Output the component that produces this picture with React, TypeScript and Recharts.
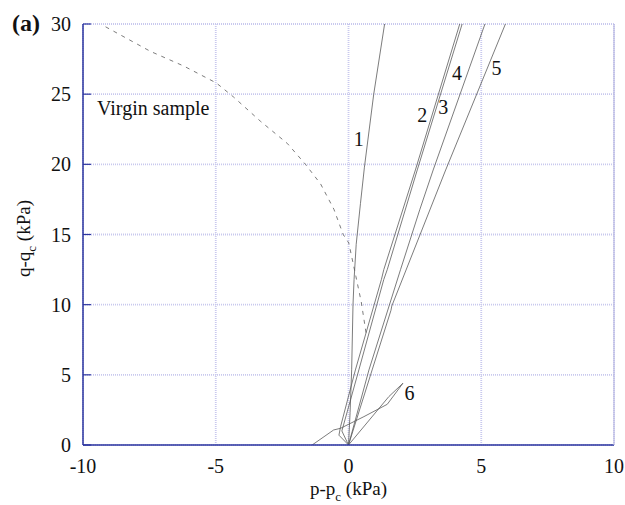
import React from 'react';
import {
  LineChart,
  Line,
  XAxis,
  YAxis,
  CartesianGrid,
  ReferenceDot,
  Customized,
} from 'recharts';

// Stress paths in the p-q plane, relative to the reference state (p_c, q_c), kPa
const path1 = [
  { x: 0, y: 0 }, { x: 0.06, y: 2.3 }, { x: 0.12, y: 5.4 }, { x: 0.17, y: 10 },
  { x: 0.21, y: 11.8 }, { x: 0.29, y: 14.3 }, { x: 0.45, y: 17.2 },
  { x: 0.6, y: 19.8 }, { x: 0.95, y: 25 }, { x: 1.36, y: 30 },
];
const path2 = [
  { x: 0, y: 0 }, { x: -0.36, y: 0.7 }, { x: -0.3, y: 1.3 }, { x: 0.26, y: 5.35 },
  { x: 1.24, y: 11.8 }, { x: 1.33, y: 12.5 }, { x: 2.52, y: 19.6 }, { x: 4.19, y: 30 },
];
const path3 = [
  { x: 0, y: 0 }, { x: -0.25, y: 1.0 }, { x: 0.39, y: 5.35 }, { x: 1.33, y: 11.8 },
  { x: 1.46, y: 12.5 }, { x: 2.59, y: 19.6 }, { x: 4.28, y: 30 },
];
const path4 = [
  { x: 0, y: 0 }, { x: 0.77, y: 5.35 }, { x: 1.96, y: 12.5 }, { x: 2.69, y: 16.8 },
  { x: 3.19, y: 19.6 }, { x: 5.14, y: 30 },
];
const path5 = [
  { x: 0, y: 0 }, { x: 0.89, y: 5.35 }, { x: 1.6, y: 9.6 }, { x: 1.63, y: 9.9 },
  { x: 3.66, y: 19.6 }, { x: 5.91, y: 30 },
];
const path6a = [
  { x: -1.37, y: 0 }, { x: -0.56, y: 1.07 }, { x: -0.3, y: 1.19 }, { x: 0.58, y: 2.02 },
  { x: 1.46, y: 2.9 }, { x: 2.05, y: 4.4 },
];
const path6b = [
  { x: 0, y: 0 }, { x: 1.52, y: 3.45 }, { x: 2.05, y: 4.4 },
];
const virginPath = [
  { x: -9.15, y: 29.8 }, { x: -7.46, y: 28.05 }, { x: -6.2, y: 27.0 }, { x: -4.98, y: 25.8 },
  { x: -4.33, y: 24.8 }, { x: -3.31, y: 23.06 }, { x: -2.31, y: 21.5 }, { x: -1.62, y: 20.0 },
  { x: -1.05, y: 18.6 }, { x: -0.55, y: 16.8 }, { x: -0.2, y: 15.0 }, { x: 0.01, y: 14.4 },
  { x: 0.28, y: 12.0 }, { x: 0.48, y: 10.2 }, { x: 0.66, y: 8.0 },
];

const xTicks = [-10, -5, 0, 5, 10];
const yTicks = [0, 5, 10, 15, 20, 25, 30];

// Path labels placed at (p - p_c, q - q_c)
const pathLabels = [
  { text: '1', x: 0.39, y: 21.8 },
  { text: '2', x: 2.78, y: 23.5 },
  { text: '3', x: 3.57, y: 24.1 },
  { text: '4', x: 4.09, y: 26.5 },
  { text: '5', x: 5.57, y: 26.9 },
  { text: '6', x: 2.3, y: 3.7 },
];
const virginLabel = { text: 'Virgin sample', x: -9.47, y: 24.0 };

const FONT = 'Liberation Serif, Times New Roman, serif';
const AXIS_BLUE = '#2b359f';
const LIGHT_BLUE = '#b9b9e2';
const GRID = '#c9c9ee';
const INK = '#111';
const PATH = '#5a5a5a';
const textStyle = { fontFamily: FONT };

const LeftTick = (props: any) => {
  const { x, y, payload } = props;
  const axisX = x + 12;
  return (
    <g>
      <line x1={axisX} y1={y} x2={axisX + 8} y2={y} stroke={AXIS_BLUE} strokeWidth={1.2} />
      <text x={x} y={y} dy="0.35em" textAnchor="end" fontSize={20} style={textStyle} fill={INK}>
        {payload.value}
      </text>
    </g>
  );
};

const BottomTick = (props: any) => {
  const { x, y, payload } = props;
  return (
    <text x={x} y={y} dy="0.71em" textAnchor="middle" fontSize={20} style={textStyle} fill={INK}>
      {payload.value}
    </text>
  );
};

const RightTick = (props: any) => {
  const { x, y } = props;
  return <line x1={x} y1={y} x2={x - 8} y2={y} stroke={AXIS_BLUE} strokeWidth={1.2} />;
};

const XLabel = (props: any) => {
  const vb = props.viewBox;
  return (
    <text x={vb.x + vb.width / 2} y={vb.y + 50} textAnchor="middle" fontSize={19} style={textStyle} fill={INK}>
      p-p
      <tspan dy={6} fontSize={13}>c</tspan>
      <tspan dy={-6}> (kPa)</tspan>
    </text>
  );
};

const YLabel = (props: any) => {
  const vb = props.viewBox;
  const cx = 30;
  const cy = vb.y + vb.height / 2 + 4;
  return (
    <text x={cx} y={cy} textAnchor="middle" fontSize={19} style={textStyle} fill={INK}
      transform={`rotate(-90 ${cx} ${cy})`}>
      q-q
      <tspan dy={6} fontSize={13}>c</tspan>
      <tspan dy={-6}> (kPa)</tspan>
    </text>
  );
};

const PanelTag = () => (
  <text x={12} y={31} fontSize={24} fontWeight="bold" style={textStyle} fill={INK}>(a)</text>
);

const seriesList = [path1, path2, path3, path4, path5, path6a, path6b];

export default function App() {
  return (
    <div style={{ position: 'absolute', left: 0, top: 0, width: 625, height: 505 }}>
      <LineChart
        width={625}
        height={505}
        margin={{ top: 24, right: 0, bottom: 0, left: 0 }}
      >
        <CartesianGrid stroke={GRID} strokeWidth={1.8} strokeDasharray="1 1" />
        <XAxis
          dataKey="x"
          type="number"
          domain={[-10, 10]}
          ticks={xTicks}
          allowDataOverflow
          height={60}
          tickSize={0}
          tickMargin={14}
          tickLine={false}
          tick={<BottomTick />}
          axisLine={{ stroke: AXIS_BLUE, strokeWidth: 1.5 }}
          label={<XLabel />}
        />
        <XAxis
          xAxisId="top"
          orientation="top"
          dataKey="x"
          type="number"
          domain={[-10, 10]}
          ticks={xTicks}
          height={0}
          tick={false}
          tickLine={false}
          axisLine={{ stroke: AXIS_BLUE, strokeWidth: 1.5 }}
        />
        <YAxis
          type="number"
          domain={[0, 30]}
          ticks={yTicks}
          allowDataOverflow
          width={83}
          tickSize={0}
          tickMargin={12}
          tickLine={false}
          tick={<LeftTick />}
          axisLine={{ stroke: AXIS_BLUE, strokeWidth: 1.5 }}
          label={<YLabel />}
        />
        <YAxis
          yAxisId="right"
          orientation="right"
          type="number"
          domain={[0, 30]}
          ticks={yTicks}
          width={11}
          tickSize={0}
          tickMargin={0}
          tickLine={false}
          tick={<RightTick />}
          axisLine={{ stroke: LIGHT_BLUE, strokeWidth: 1.2 }}
        />
        {seriesList.map((d, i) => (
          <Line
            key={i}
            data={d}
            dataKey="y"
            type="linear"
            stroke={PATH}
            strokeWidth={0.8}
            dot={false}
            activeDot={false}
            isAnimationActive={false}
          />
        ))}
        <Line
          data={virginPath}
          dataKey="y"
          type="linear"
          stroke={PATH}
          strokeWidth={0.8}
          strokeDasharray="4 5"
          dot={false}
          activeDot={false}
          isAnimationActive={false}
        />
        {pathLabels.map((l) => (
          <ReferenceDot
            key={l.text}
            x={l.x}
            y={l.y}
            r={0}
            stroke="none"
            fill="none"
            label={(p: any) => (
              <text x={p.viewBox.x} y={p.viewBox.y} dy="0.35em" textAnchor="middle" fontSize={20} style={textStyle} fill={INK}>
                {l.text}
              </text>
            )}
          />
        ))}
        <ReferenceDot
          x={virginLabel.x}
          y={virginLabel.y}
          r={0}
          stroke="none"
          fill="none"
          label={(p: any) => (
            <text x={p.viewBox.x} y={p.viewBox.y} dy="0.35em" textAnchor="start" fontSize={20} style={textStyle} fill={INK}>
              {virginLabel.text}
            </text>
          )}
        />
        <Customized component={PanelTag} />
      </LineChart>
    </div>
  );
}
